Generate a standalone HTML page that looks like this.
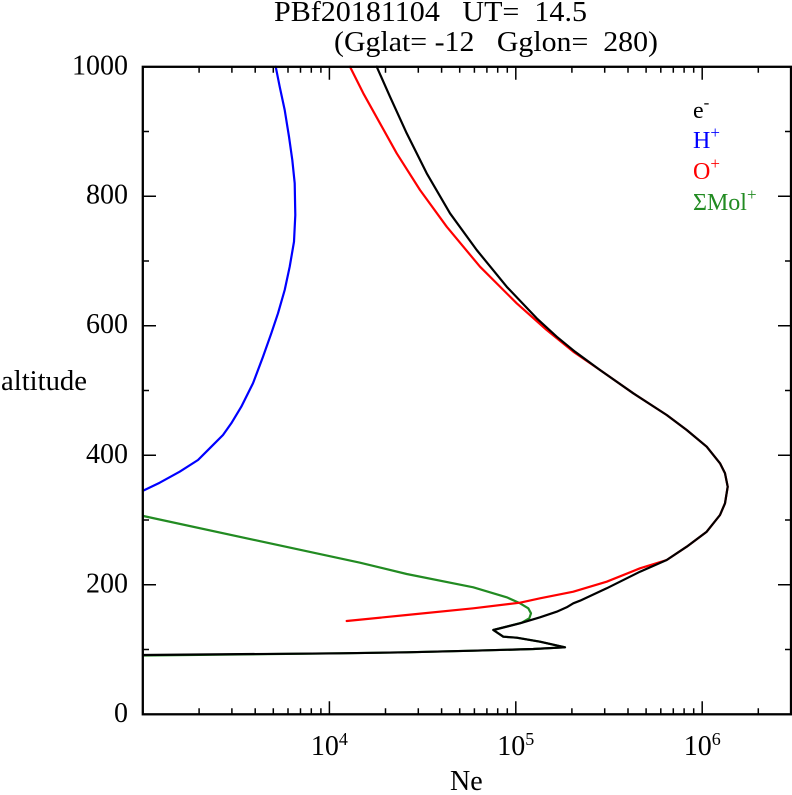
<!DOCTYPE html>
<html><head><meta charset="utf-8"><style>
html,body{margin:0;padding:0;background:#fff;}
svg{display:block;}
text{font-family:"Liberation Serif","DejaVu Serif",serif;}
</style></head><body>
<svg width="792" height="795" viewBox="0 0 792 795" xmlns="http://www.w3.org/2000/svg">
<rect width="792" height="795" fill="#fff"/>
<!-- Title -->
<text x="274" y="21" font-size="28" xml:space="preserve" textLength="313" lengthAdjust="spacingAndGlyphs">PBf20181104   UT=  14.5</text>
<text x="334" y="51" font-size="28" xml:space="preserve" textLength="324" lengthAdjust="spacingAndGlyphs">(Gglat= -12   Gglon=  280)</text>

<!-- Curves -->
<g fill="none" stroke-width="2.2" stroke-linejoin="round" stroke-linecap="round">
<polyline stroke="#0000ff" points="275.7,66.7 279.7,86.7 284.7,110 289,136.7 292.3,160 294.7,183.3 295.3,215 294,241.7 289.7,266.7 284.7,290 278,313.3 271.3,333.3 263,356.7 253,383.3 241.3,406.7 231.3,423.3 223,435 209.7,448.3 198,460 179.7,471.7 159.7,482.7 143,490.7"/>
<polyline stroke="#228B22" points="143.3,516 360,562.7 406.7,574 473.3,587.3 506.7,597.3 520,603.3 528.3,608.3 531,613.3 529.3,618.3 521.7,622.7 493.3,630 503.3,636.7 516.7,637.7 540,641.7 565,647.3 533.3,649 473.3,650.7 406.7,652.3 340,653.3 143,655.5"/>
<polyline stroke="#ff0000" points="350,66.7 363.3,93.3 380,123.3 396.7,153.3 420,190 446.7,226.7 480,266.7 516.7,303.3 546.7,330 573.3,351.7 600,370 633.3,393.3 666.7,415 686.7,430 706.7,446.7 720,463.3 725,473.3 727.7,486.7 725,503.3 720,515 706.7,531.7 686.7,546.7 666.7,560 640,568.3 606.7,581.7 573.3,591.7 540,598.3 520,602.7 473.3,608.3 406.7,615 346.7,621"/>
<polyline stroke="#000000" points="376.7,66.7 390,96.7 406.7,133.3 426.7,173.3 450,213.3 476.7,250 506.7,286.7 536.7,318.3 556.7,336.7 575,351.7 600,370 633.3,393.3 666.7,415 686.7,430 706.7,446.7 720,463.3 725,473.3 727.7,486.7 725,503.3 720,515 706.7,531.7 686.7,546.7 666.7,560 640,571.7 606.7,588.3 580,600.7 573.3,603.3 566.7,607.3 556.7,611.7 540,617.3 520,623.3 493.3,630 503.3,636.7 516.7,637.7 540,641.7 565,647.3 533.3,649 473.3,650.7 406.7,652.3 340,653.3 143,655"/>
</g>

<!-- Frame -->
<rect x="142.8" y="66.8" width="648.2" height="647.5" fill="none" stroke="#000" stroke-width="2.3"/>

<!-- Ticks -->
<g stroke="#000" stroke-width="1.5">
<path d="M143,714.3h13M143,584.8h13M143,455.3h13M143,325.7h13M143,196.2h13M143,66.8h13
M791,584.8h-13M791,455.3h-13M791,325.7h-13M791,196.2h-13"/>
<path d="M143,649.5h6M143,520h6M143,390.5h6M143,261h6M143,131.5h6
M791,649.5h-6M791,520h-6M791,390.5h-6M791,261h-6M791,131.5h-6"/>
<path d="M329.4,714.3v-13M515.8,714.3v-13M702.2,714.3v-13
M329.4,66.8v13M515.8,66.8v13M702.2,66.8v13"/>
<path d="M199.1,714.3v-6M231.9,714.3v-6M255.2,714.3v-6M273.3,714.3v-6M288,714.3v-6M300.5,714.3v-6M311.3,714.3v-6M320.9,714.3v-6
M385.5,714.3v-6M418.3,714.3v-6M441.6,714.3v-6M459.7,714.3v-6M474.4,714.3v-6M486.9,714.3v-6M497.7,714.3v-6M507.3,714.3v-6
M571.9,714.3v-6M604.7,714.3v-6M628,714.3v-6M646.1,714.3v-6M660.8,714.3v-6M673.3,714.3v-6M684.1,714.3v-6M693.7,714.3v-6
M758.3,714.3v-6"/>
<path d="M199.1,66.8v6M231.9,66.8v6M255.2,66.8v6M273.3,66.8v6M288,66.8v6M300.5,66.8v6M311.3,66.8v6M320.9,66.8v6
M385.5,66.8v6M418.3,66.8v6M441.6,66.8v6M459.7,66.8v6M474.4,66.8v6M486.9,66.8v6M497.7,66.8v6M507.3,66.8v6
M571.9,66.8v6M604.7,66.8v6M628,66.8v6M646.1,66.8v6M660.8,66.8v6M673.3,66.8v6M684.1,66.8v6M693.7,66.8v6
M758.3,66.8v6"/>
</g>

<!-- Y tick labels -->
<g font-size="28" text-anchor="end">
<text x="128" y="74.3">1000</text>
<text x="128" y="203.7">800</text>
<text x="128" y="333.2">600</text>
<text x="128" y="462.8">400</text>
<text x="128" y="592.3">200</text>
<text x="128" y="721.8">0</text>
</g>

<!-- X tick labels -->
<g font-size="28" text-anchor="middle">
<text x="329.4" y="755">10<tspan dy="-10" font-size="18">4</tspan></text>
<text x="515.8" y="755">10<tspan dy="-10" font-size="18">5</tspan></text>
<text x="702.2" y="755">10<tspan dy="-10" font-size="18">6</tspan></text>
</g>

<!-- Axis labels -->
<text x="1" y="390" font-size="28" textLength="86" lengthAdjust="spacingAndGlyphs">altitude</text>
<text x="450" y="790" font-size="28">Ne</text>

<!-- Legend -->
<g font-size="24">
<text x="693" y="118" fill="#000">e<tspan dy="-10" font-size="17">-</tspan></text>
<text x="693" y="148" fill="#0000ff">H<tspan dy="-10" font-size="17">+</tspan></text>
<text x="693" y="179" fill="#ff0000">O<tspan dy="-10" font-size="17">+</tspan></text>
<text x="693" y="210" fill="#228B22">ΣMol<tspan dy="-10" font-size="17">+</tspan></text>
</g>
</svg>
</body></html>
